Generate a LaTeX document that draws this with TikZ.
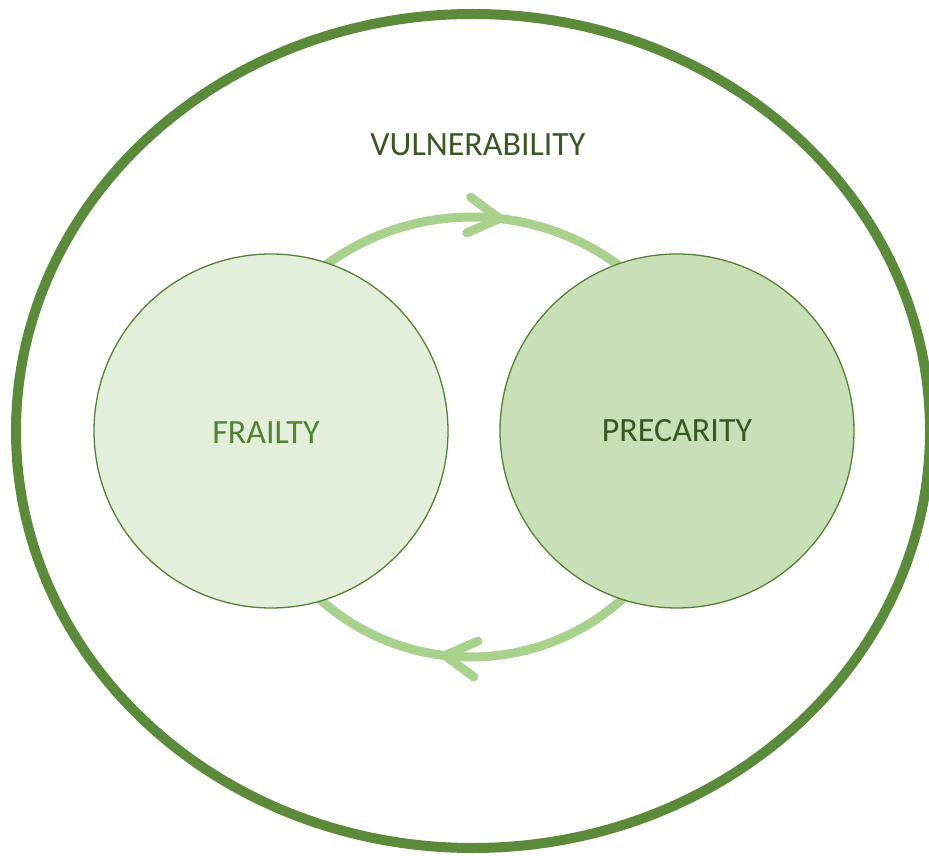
\documentclass[tikz,border=0pt]{standalone}
\usepackage{fontspec}
\setmainfont{Carlito}
\usetikzlibrary{decorations.markings}
\definecolor{outergreen}{HTML}{5A8A3A}
\definecolor{rimgreen}{HTML}{548235}
\definecolor{darkgreen}{HTML}{385723}
\definecolor{midgreen}{HTML}{548235}
\definecolor{arrowgreen}{HTML}{A9D18E}
\definecolor{lightfill}{HTML}{E2EFDA}
\definecolor{midfill}{HTML}{C9DFB7}
\begin{document}
\begin{tikzpicture}[x=1pt,y=1pt,
  bubble/.style={circle, draw=rimgreen, line width=1.3pt, minimum size=354pt, inner sep=0pt},
  cyclearrow/.style={draw=arrowgreen, line width=9pt, line cap=round, line join=round},
  labeltext/.style={font=\fontsize{34}{40}\selectfont}
]
\useasboundingbox (0,0) rectangle (929,855);
% outer ellipse
\draw[outergreen, line width=10pt] (473,424) ellipse [x radius=457, y radius=417];
\node[labeltext, text=darkgreen] (vul) at (478,710) {VULNERABILITY};
% cycle arrows (drawn beneath the circles)
\coordinate (tc) at (472,391.5);
\coordinate (bc) at (471,424.6);
\draw[cyclearrow, postaction={decorate, decoration={markings,
   mark=at position 0.58 with {\draw[cyclearrow] (-31pt,18pt) -- (0,0) -- (-31pt,-18pt);}}}]
  (tc) ++(130:246.5) arc[start angle=130, end angle=50, radius=246.5];
\draw[cyclearrow, postaction={decorate, decoration={markings,
   mark=at position 0.573 with {\draw[cyclearrow] (-31pt,18pt) -- (0,0) -- (-31pt,-18pt);}}}]
  (bc) ++(-45:226.6) arc[start angle=-45, end angle=-135, radius=226.6];
% circles
\node[bubble, fill=lightfill] (frailty) at (271,424) {};
\node[bubble, fill=midfill] (precarity) at (677,424) {};
\node[labeltext, text=midgreen] (ftext) at (266,422) {FRAILTY};
\node[labeltext, text=darkgreen] (ptext) at (677,424) {PRECARITY};
\end{tikzpicture}
\end{document}
